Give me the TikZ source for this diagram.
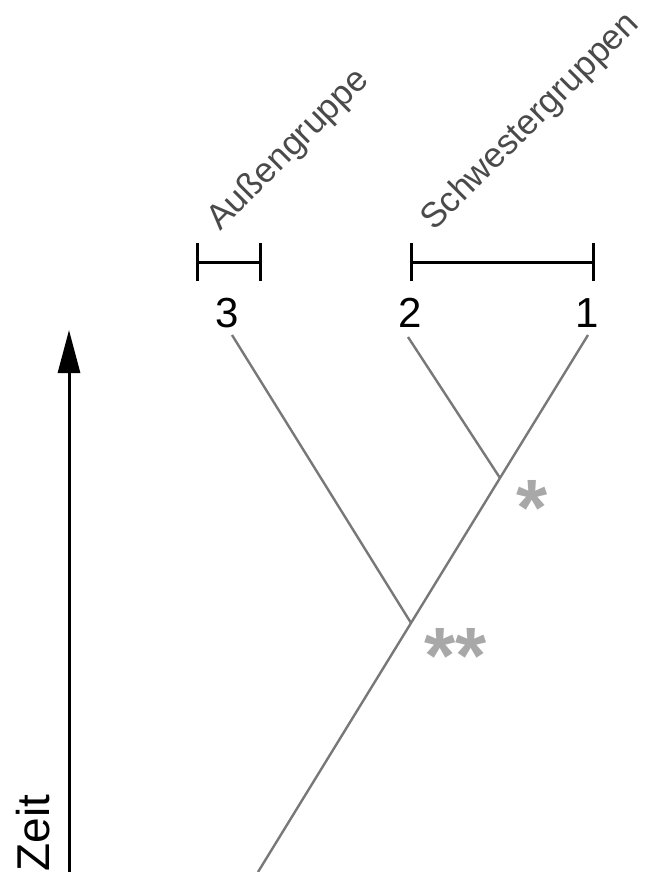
\documentclass[tikz,border=0pt]{standalone}
\usepackage{fontspec}
\setmainfont{Liberation Sans}
\usetikzlibrary{arrows.meta}
\definecolor{treegray}{HTML}{787878}
\definecolor{stargray}{HTML}{A8A8A8}
\definecolor{labelgray}{HTML}{4A4A4A}
\begin{document}
\begin{tikzpicture}[x=1pt,y=-1pt,
  branch/.style={draw=treegray,line width=2.4pt},
  bracketline/.style={draw=black,line width=3pt},
  digit/.style={font=\fontsize{42}{42}\selectfont,inner sep=0pt,anchor=base},
  grouplabel/.style={font=\fontsize{35}{35}\selectfont,text=labelgray,rotate=45,anchor=base west,inner sep=0pt},
  starlabel/.style={font=\fontsize{80}{80}\selectfont\bfseries,text=stargray,inner sep=0pt}]
\useasboundingbox (0,0) rectangle (651,872);
% time arrow
\coordinate (tbot) at (69,872);
\coordinate (ttop) at (69,330);
\draw[line width=3pt,-{Triangle[length=43pt,width=22pt]}] (tbot) -- (ttop);
\node[font=\fontsize{46}{46}\selectfont,rotate=90,anchor=base,inner sep=0pt] (zeit) at (49,833) {Zeit};
% tree
\coordinate (root) at (258,872);
\coordinate (n2) at (411,623);
\coordinate (n1) at (500,478);
\coordinate (t1) at (588,335);
\coordinate (t2) at (408,337);
\coordinate (t3) at (232,335);
\draw[branch] (root) -- (n2) -- (n1) -- (t1);
\draw[branch] (n2) -- (t3);
\draw[branch] (n1) -- (t2);
% stars
\node[starlabel] (s1) at (532,508) {*};
\node[starlabel] (s2) at (456,656) {**};
% digits
\node[digit] (d3) at (227,327) {3};
\node[digit] (d2) at (410,327) {2};
\node[digit] (d1) at (587,327) {1};
% brackets
\coordinate (b3l) at (197,262);
\coordinate (b3r) at (260,262);
\draw[bracketline] (b3l) -- (b3r);
\draw[bracketline] ([yshift=-19pt]b3l) -- ([yshift=19pt]b3l);
\draw[bracketline] ([yshift=-19pt]b3r) -- ([yshift=19pt]b3r);
\coordinate (b1l) at (411,262);
\coordinate (b1r) at (593,262);
\draw[bracketline] (b1l) -- (b1r);
\draw[bracketline] ([yshift=-19pt]b1l) -- ([yshift=19pt]b1l);
\draw[bracketline] ([yshift=-19pt]b1r) -- ([yshift=19pt]b1r);
% labels
\node[grouplabel] (aus) at (220,232) {Außengruppe};
\node[grouplabel] (schw) at (434,232) {Schwestergruppen};
\end{tikzpicture}
\end{document}
